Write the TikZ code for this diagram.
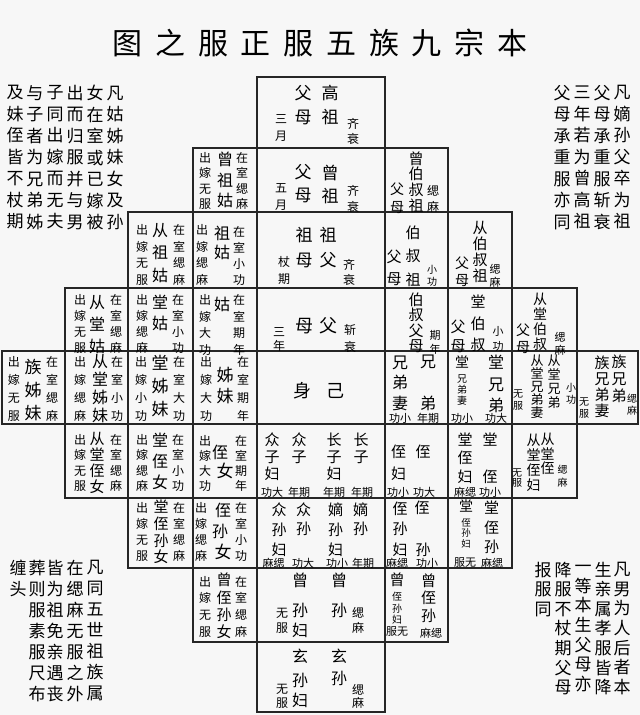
\documentclass[tikz,border=0pt]{standalone}
\usepackage{fontspec}
\setmainfont{Noto Sans CJK SC}
\newcount\tnum
\newcommand\tgap{\hspace{12.7pt}}
\tikzset{
  cell/.style={draw=black!85, line width=1.1pt},
  txt/.style={inner sep=0pt, outer sep=0pt, align=center, anchor=center, text=black}
}
\newcommand\vt[5]{\global\advance\tnum by 1\relax
  \node[txt, font=\fontsize{#3}{#4}\selectfont] (t\the\tnum) at (#1,#2) {#5};}
\begin{document}
\lineskiplimit=-100pt
\begin{tikzpicture}[x=1pt,y=-1pt]
\fill[black!3] (0,0) rectangle (640,715);
\useasboundingbox (0,0) rectangle (640,715);
\lineskiplimit=-100pt
% ---------- cells ----------
\draw[cell] (257,77) rectangle (385,148);
\foreach \xa/\xb in {193/257,257/385,385/448} \draw[cell] (\xa,148) rectangle (\xb,212);
\foreach \xa/\xb in {128/193,193/257,257/385,385/448,448/512} \draw[cell] (\xa,212) rectangle (\xb,288);
\foreach \xa/\xb in {65/128,128/193,193/257,257/385,385/448,448/512,512/577} \draw[cell] (\xa,288) rectangle (\xb,351);
\foreach \xa/\xb in {2/65,65/128,128/193,193/257,257/385,385/448,448/512,512/577,577/638} \draw[cell] (\xa,351) rectangle (\xb,424);
\foreach \xa/\xb in {65/128,128/193,193/257,257/385,385/448,448/512,512/577} \draw[cell] (\xa,424) rectangle (\xb,498);
\foreach \xa/\xb in {128/193,193/257,257/385,385/448,448/512} \draw[cell] (\xa,498) rectangle (\xb,568);
\foreach \xa/\xb in {193/257,257/385,385/448} \draw[cell] (\xa,568) rectangle (\xb,642);
\draw[cell] (257,642) rectangle (385,712);
% ---------- title ----------
\node[txt, font=\fontsize{30}{36}\selectfont] (title) at (320,43) {图\tgap 之\tgap 服\tgap 正\tgap 服\tgap 五\tgap 族\tgap 九\tgap 宗\tgap 本};
% ---------- side notes ----------
\vt{115}{157.5}{17}{21.5}{凡\\姑\\姊\\妹\\女\\及\\孙}
\vt{95}{157.5}{17}{21.5}{女\\在\\室\\或\\已\\嫁\\被}
\vt{75}{157.5}{17}{21.5}{出\\而\\归\\服\\并\\与\\男}
\vt{55}{157.5}{17}{21.5}{子\\同\\出\\嫁\\而\\无\\夫}
\vt{35}{157.5}{17}{21.5}{与\\子\\者\\为\\兄\\弟\\姊}
\vt{15}{157.5}{17}{21.5}{及\\妹\\侄\\皆\\不\\杖\\期}
\vt{622}{157.5}{17}{21.5}{凡\\嫡\\孙\\父\\卒\\为\\祖}
\vt{602}{157.5}{17}{21.5}{父\\母\\承\\重\\服\\斩\\衰}
\vt{582}{157.5}{17}{21.5}{三\\年\\若\\为\\曾\\高\\祖}
\vt{562}{157.5}{17}{21.5}{父\\母\\承\\重\\服\\亦\\同}
\vt{95}{631}{17}{21}{凡\\同\\五\\世\\祖\\族\\属}
\vt{75}{631}{17}{21}{在\\缌\\麻\\无\\服\\之\\外}
\vt{55}{631}{17}{21}{皆\\为\\祖\\免\\亲\\遇\\丧}
\vt{37}{631}{17}{21}{葬\\则\\服\\素\\服\\尺\\布}
\vt{18}{578.5}{17}{21}{缠\\头}
\vt{622}{628.5}{17}{19.6}{凡\\男\\为\\人\\后\\者\\本}
\vt{603}{628.5}{17}{19.6}{生\\亲\\属\\孝\\服\\皆\\降}
\vt{583}{628.5}{17}{19.6}{一\\等\\本\\生\\父\\母\\亦}
\vt{563}{628.5}{17}{19.6}{降\\服\\不\\杖\\期\\父\\母}
\vt{543}{589.5}{17}{19.6}{报\\服\\同}
% ---------- row 1 ----------
\vt{330}{105}{17}{24}{高\\祖}
\vt{303}{105}{17}{24}{父\\母}
\vt{281}{128}{12}{17}{三\\月}
\vt{353}{131}{12}{15}{齐\\衰}
% ---------- row 2 ----------
\vt{205}{181}{12}{15.5}{出\\嫁\\无\\服}
\vt{225}{180}{16}{20.5}{曾\\祖\\姑}
\vt{242}{181}{12}{15.5}{在\\室\\缌\\麻}
\vt{330}{184}{17}{23}{曾\\祖}
\vt{303}{184}{17}{23}{父\\母}
\vt{281}{197}{12}{17}{五\\月}
\vt{353}{199}{12}{16}{齐\\衰}
\vt{416}{182}{15}{15.7}{曾\\伯\\叔\\祖}
\vt{397}{198}{14}{18}{父\\母}
\vt{433}{199}{12}{16}{缌\\麻}
% ---------- row 3 ----------
\vt{142}{255}{12}{16.7}{出\\嫁\\无\\服}
\vt{160}{253}{16}{22.5}{从\\祖\\姑}
\vt{179}{255}{12}{16.7}{在\\室\\缌\\麻}
\vt{202}{255}{12}{16.7}{出\\嫁\\缌\\麻}
\vt{222}{243}{16}{19}{祖\\姑}
\vt{239}{256}{12}{16}{在\\室\\小\\功}
\vt{328}{247.5}{17}{25}{祖\\父}
\vt{304}{247.5}{17}{25}{祖\\母}
\vt{284}{270.5}{12}{17}{杖\\期}
\vt{349}{272}{12}{15}{齐\\衰}
\vt{413}{256}{15}{23.5}{伯\\叔\\祖}
\vt{394}{268}{15}{22}{父\\母}
\vt{432}{276}{10}{12}{小\\功}
\vt{480}{252}{15}{16}{从\\伯\\叔\\祖}
\vt{462}{271.5}{14}{17}{父\\母}
\vt{495}{275.5}{11}{13}{缌\\麻}
% ---------- row 4 ----------
\vt{80}{324}{12}{16}{出\\嫁\\无\\服}
\vt{97}{325}{16}{22}{从\\堂\\姑}
\vt{116}{324}{12}{16}{在\\室\\缌\\麻}
\vt{142}{324}{12}{16}{出\\嫁\\缌\\麻}
\vt{160}{312.5}{16}{21}{堂\\姑}
\vt{178}{324}{12}{16}{在\\室\\小\\功}
\vt{205}{325}{12}{16.5}{出\\嫁\\大\\功}
\vt{222}{304}{16}{16}{姑}
\vt{239}{325}{12}{16.5}{在\\室\\期\\年}
\vt{304}{326}{18}{18}{母}
\vt{328}{326}{18}{18}{父}
\vt{279}{340}{12}{14}{三\\年}
\vt{350}{338.5}{12}{17}{斩\\衰}
\vt{416}{323}{15}{15.5}{伯\\叔\\父\\母}
\vt{435}{342}{11}{14}{期\\年}
\vt{478}{323.5}{15}{21.5}{堂\\伯\\叔}
\vt{458}{336.5}{15}{19}{父\\母}
\vt{498}{338.5}{11}{15}{小\\功}
\vt{540}{322}{14}{15}{从\\堂\\伯\\叔}
\vt{523}{338.5}{14}{17}{父\\母}
\vt{560}{343.5}{11}{13}{缌\\麻}
% ---------- row 5 ----------
\vt{14}{389}{12}{18}{出\\嫁\\无\\服}
\vt{33}{390}{17}{23}{族\\姊\\妹}
\vt{52}{389}{12}{18}{在\\室\\缌\\麻}
\vt{80}{389}{12}{18}{出\\嫁\\缌\\麻}
\vt{100}{389}{16}{18}{从\\堂\\姊\\妹}
\vt{117}{389}{12}{18}{在\\室\\小\\功}
\vt{141}{389}{12}{18}{出\\嫁\\小\\功}
\vt{160}{386}{17}{23}{堂\\姊\\妹}
\vt{179}{389}{12}{18}{在\\室\\大\\功}
\vt{206}{389}{12}{18}{出\\嫁\\大\\功}
\vt{225}{386}{17}{21}{姊\\妹}
\vt{243}{389}{12}{18}{在\\室\\期\\年}
\vt{302}{391}{18}{18}{身}
\vt{335}{391}{18}{18}{己}
\vt{400}{383}{16}{20.5}{兄\\弟\\妻}
\vt{428}{362}{16}{16}{兄}
\vt{428}{403}{16}{16}{弟}
\vt{400}{418.5}{11}{11}{功小}
\vt{428}{418.5}{11}{11}{年期}
\vt{462}{362}{14}{14}{堂}
\vt{462}{390}{10}{11}{兄\\弟\\妻}
\vt{462}{418.5}{11}{11}{功小}
\vt{496}{384}{16}{21.5}{堂\\兄\\弟}
\vt{496}{418.5}{11}{11}{功大}
\vt{537}{387}{13}{13}{从\\堂\\兄\\弟\\妻}
\vt{554}{382}{13}{14}{从\\堂\\兄\\弟}
\vt{518}{400}{10}{12}{无\\服}
\vt{571}{394}{10}{12}{小\\功}
\vt{602}{387}{15}{16}{族\\兄\\弟\\妻}
\vt{619}{379}{15}{17}{族\\兄\\弟}
\vt{584}{408}{10}{12}{无\\服}
\vt{632}{405}{10}{12}{缌\\麻}
% ---------- row 6 ----------
\vt{80}{463}{12}{15.3}{出\\嫁\\无\\服}
\vt{97}{463}{15}{16}{从\\堂\\侄\\女}
\vt{116}{463}{12}{15.3}{在\\室\\缌\\麻}
\vt{142}{463}{12}{15.3}{出\\嫁\\缌\\麻}
\vt{160}{461}{16}{21}{堂\\侄\\女}
\vt{178}{463}{12}{15.3}{在\\室\\小\\功}
\vt{205}{463}{12}{15}{出\\嫁\\大\\功}
\vt{220}{452}{16}{16}{侄}
\vt{225}{471}{17}{17}{女}
\vt{241}{463}{12}{15}{在\\室\\期\\年}
\vt{272}{457}{15}{17}{众\\子\\妇}
\vt{299}{448.5}{15}{17}{众\\子}
\vt{334}{457}{15}{17}{长\\子\\妇}
\vt{361}{448.5}{15}{17}{长\\子}
\vt{272}{492}{11}{11}{功大}
\vt{299}{492}{11}{11}{年期}
\vt{334}{492}{11}{11}{年期}
\vt{362}{492}{11}{11}{年期}
\vt{398.5}{462.5}{15}{22}{侄\\妇}
\vt{423}{451.5}{15}{15}{侄}
\vt{398}{492}{11}{11}{功小}
\vt{424}{492}{11}{11}{功大}
\vt{465}{458}{15}{18.5}{堂\\侄\\妇}
\vt{490}{440}{15}{15}{堂}
\vt{490}{477}{15}{15}{侄}
\vt{465}{492}{11}{11}{麻缌}
\vt{490}{492}{11}{11}{功小}
\vt{533.5}{462.5}{14}{15}{从\\堂\\侄\\妇}
\vt{547.5}{454}{14}{14.5}{从\\堂\\侄}
\vt{517}{478}{10}{10.5}{无\\服}
\vt{562.5}{476}{10}{13}{缌\\麻}
% ---------- row 7 ----------
\vt{142}{532}{12}{16}{出\\嫁\\无\\服}
\vt{161}{532}{15}{16.7}{堂\\侄\\孙\\女}
\vt{179}{532}{12}{16}{在\\室\\缌\\麻}
\vt{201}{532}{12}{16}{出\\嫁\\缌\\麻}
\vt{223}{510}{16}{16}{侄}
\vt{220}{531}{16}{16}{孙}
\vt{223}{552}{17}{17}{女}
\vt{241}{532}{12}{16}{在\\室\\小\\功}
\vt{279}{529.5}{15}{20}{众\\孙\\妇}
\vt{303.5}{519}{15}{19}{众\\孙}
\vt{335.5}{529.5}{15}{20}{嫡\\孙\\妇}
\vt{360.5}{519}{15}{19}{嫡\\孙}
\vt{273.5}{563}{11}{11}{麻缌}
\vt{303}{563}{11}{11}{功大}
\vt{337}{563}{11}{11}{功小}
\vt{363}{563}{11}{11}{年期}
\vt{400}{529}{15}{20.5}{侄\\孙\\妇}
\vt{422}{508}{15}{15}{侄}
\vt{423}{550}{15}{15}{孙}
\vt{397}{563}{11}{11}{麻缌}
\vt{427}{563}{11}{11}{功小}
\vt{466}{506}{14}{14}{堂}
\vt{466}{533}{9.5}{10.5}{侄\\孙\\妇}
\vt{465}{563}{11}{11}{服无}
\vt{491.5}{527.5}{15}{19.5}{堂\\侄\\孙}
\vt{492}{563}{11}{11}{麻缌}
% ---------- row 8 ----------
\vt{205}{606.5}{12}{16.7}{出\\嫁\\无\\服}
\vt{224}{606}{15}{17.3}{曾\\侄\\孙\\女}
\vt{241}{606.5}{12}{16.7}{在\\室\\缌\\麻}
\vt{300}{580}{16}{16}{曾}
\vt{300}{620}{16}{20}{孙\\妇}
\vt{339}{580}{16}{16}{曾}
\vt{339}{610}{16}{16}{孙}
\vt{282}{620.5}{12}{15}{无\\服}
\vt{358}{620.5}{12}{15}{缌\\麻}
\vt{397}{580}{15}{15}{曾}
\vt{397}{608.5}{10}{11.5}{侄\\孙\\妇}
\vt{397}{632}{11}{11}{服无}
\vt{428.5}{598}{15}{17.5}{曾\\侄\\孙}
\vt{431}{633}{11}{11}{麻缌}
% ---------- row 9 ----------
\vt{300}{656}{16}{16}{玄}
\vt{300}{690}{16}{20}{孙\\妇}
\vt{339}{656}{16}{16}{玄}
\vt{339}{678}{16}{16}{孙}
\vt{282}{696}{12}{14}{无\\服}
\vt{358}{696.5}{12}{13}{缌\\麻}
\end{tikzpicture}
\end{document}
